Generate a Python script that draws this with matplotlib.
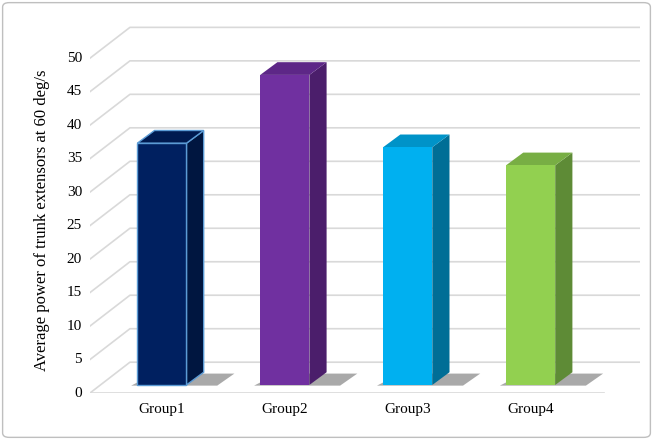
import matplotlib.pyplot as plt
from matplotlib.patches import Polygon, FancyBboxPatch

groups = ['Group1', 'Group2', 'Group3', 'Group4']
values = [36.1, 46.3, 35.5, 32.8]
front_colors = ['#002060', '#7030A0', '#00B0F0', '#92D050']
side_colors = ['#001640', '#4B1E6B', '#006E96', '#5E8B36']
top_colors = ['#001A50', '#5D2787', '#0093C8', '#78AE44']
edge_colors = ['#5B9BD5', '#7030A0', '#00B0F0', '#92D050']
yticks = list(range(0, 55, 5))

plt.rcParams['font.family'] = 'Liberation Serif'
fig = plt.figure(figsize=(6.53, 4.40), dpi=100)
border = FancyBboxPatch((0.004, 0.006), 0.992, 0.988, boxstyle='round,pad=0,rounding_size=0.01',
                        transform=fig.transFigure, fc='white', ec='#BFBFBF', lw=1, zorder=-10)
fig.patches.append(border)
ax = fig.add_axes([90/653, 47/440, 550/653, 373/440])
ax.set_xlim(-0.585, 3.89)
ax.set_ylim(0, 55.7)
ax.axis('off')

wx, wy = 0.325, 4.6  # back wall offset
for v in yticks:
    ax.plot([-0.585, -0.585 + wx, 3.89], [v, v + wy, v + wy], color='#D9D9D9', lw=1.2, zorder=1)
    ax.text(-0.65, v, str(v), ha='right', va='center', fontsize=11)
ax.plot([-0.585, 3.6], [0, 0], color='#D9D9D9', lw=1.2, zorder=1)

base = 1.2
hw = 0.2
dx, dy = 0.14, 1.9
for i, (g, v) in enumerate(zip(groups, values)):
    top = base + v
    # shadow on floor
    ax.add_patch(Polygon([(i - hw - 0.05, base - 0.1), (i + hw + 0.25, base - 0.1),
                          (i + hw + dx + 0.25, base + dy - 0.2), (i - hw + dx, base + dy - 0.2)],
                         closed=True, fc='#555555', ec='none', alpha=0.5, zorder=2))
    ax.add_patch(Polygon([(i + hw, base), (i + hw + dx, base + dy), (i + hw + dx, top + dy), (i + hw, top)],
                         closed=True, fc=side_colors[i], ec=edge_colors[i] if i == 0 else 'none', lw=1, zorder=3))
    ax.add_patch(Polygon([(i - hw, top), (i + hw, top), (i + hw + dx, top + dy), (i - hw + dx, top + dy)],
                         closed=True, fc=top_colors[i], ec=edge_colors[i] if i == 0 else 'none', lw=1, zorder=3))
    ax.add_patch(Polygon([(i - hw, base), (i + hw, base), (i + hw, top), (i - hw, top)],
                         closed=True, fc=front_colors[i], ec=edge_colors[i] if i == 0 else 'none', lw=1, zorder=4))
    ax.text(i, -2.5, g, ha='center', va='center', fontsize=11, clip_on=False)

fig.text(42/653, 0.5, 'Average power of trunk extensors at 60 deg/s', rotation=90,
         ha='center', va='center', fontsize=12)
fig.savefig('out.png', dpi=100)
